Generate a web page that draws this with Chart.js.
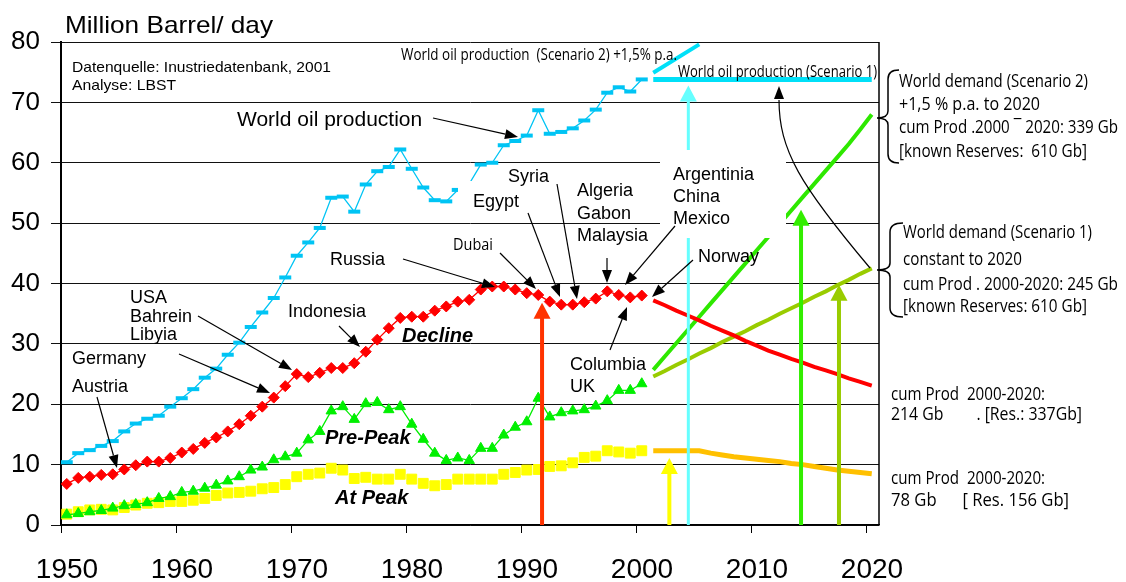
<!DOCTYPE html>
<html>
<head>
<meta charset="utf-8">
<title>World oil production</title>
<script src="https://cdn.jsdelivr.net/npm/chart.js@4.4.1/dist/chart.umd.min.js"></script>
<style>
    body { margin: 0; background: #fff; }
    canvas { display: block; }
</style>
</head>
<body>
<canvas id="oil-chart" width="1126" height="582"></canvas>
<script>
// -- data --
const years = [1950, 1951, 1952, 1953, 1954, 1955, 1956, 1957, 1958, 1959,
    1960, 1961, 1962, 1963, 1964, 1965, 1966, 1967, 1968, 1969,
    1970, 1971, 1972, 1973, 1974, 1975, 1976, 1977, 1978, 1979,
    1980, 1981, 1982, 1983, 1984, 1985, 1986, 1987, 1988, 1989,
    1990, 1991, 1992, 1993, 1994, 1995, 1996, 1997, 1998, 1999, 2000];

//World oil production
const worldProduction = [10.4, 11.9, 12.4, 13.1, 13.9, 15.5, 16.8, 17.6, 18.1, 19.6,
    21.0, 22.5, 24.4, 25.9, 28.2, 30.2, 32.8, 35.2, 37.6, 41.0,
    44.6, 46.8, 49.2, 54.2, 54.4, 51.9, 56.4, 58.6, 59.3, 62.2,
    59.0, 55.9, 53.8, 53.6, 55.5, 56.5, 59.7, 60.0, 62.9, 63.6,
    64.5, 68.7, 64.8, 65.1, 65.7, 67.0, 68.8, 71.6, 72.5, 71.8, 73.8];

//Decline countries
const declineProduction = [6.8, 7.8, 8.0, 8.3, 8.4, 9.2, 9.9, 10.5, 10.5, 11.1,
    12.0, 12.6, 13.6, 14.5, 15.5, 16.7, 18.1, 19.6, 21.1, 23.0,
    25.0, 24.5, 25.2, 26.0, 26.0, 26.8, 28.7, 30.7, 32.6, 34.3,
    34.5, 34.5, 35.5, 36.2, 37.0, 37.3, 39.0, 39.5, 39.5, 39.0,
    38.4, 38.1, 37.0, 36.5, 36.5, 36.9, 37.5, 38.7, 38.1, 37.7, 38.0];

//Pre-Peak countries
const prePeakProduction = [1.7, 1.9, 2.2, 2.4, 2.8, 3.2, 3.4, 3.7, 4.4, 4.7,
    5.4, 5.6, 6.1, 6.6, 7.3, 8.0, 9.1, 9.6, 10.8, 11.3,
    11.9, 14.1, 15.5, 18.9, 19.6, 17.5, 20.1, 20.3, 19.1, 19.6,
    16.7, 14.2, 11.9, 10.7, 11.1, 10.7, 12.7, 12.7, 14.9, 16.2,
    17.1, 21.0, 17.9, 18.6, 18.9, 19.1, 19.7, 20.6, 22.3, 22.3, 23.4];

//At Peak countries
const atPeakProduction = [1.8, 2.2, 2.5, 2.6, 2.5, 2.9, 3.3, 3.6, 3.7, 3.9,
    3.9, 4.1, 4.4, 4.9, 5.3, 5.4, 5.6, 6.0, 6.2, 6.7,
    8.0, 8.4, 8.6, 9.4, 9.1, 7.7, 7.9, 7.6, 7.6, 8.4,
    7.6, 6.9, 6.5, 6.7, 7.6, 7.6, 7.6, 7.6, 8.4, 8.7,
    9.1, 9.2, 9.7, 9.8, 10.3, 11.2, 11.4, 12.3, 12.1, 11.9, 12.3];

//Forecast 2001 - 2020
const forecastYears = [2001, 2002, 2003, 2004, 2005, 2006, 2007, 2008, 2009, 2010,
    2011, 2012, 2013, 2014, 2015, 2016, 2017, 2018, 2019, 2020];
const declineForecast = [37.2, 36.4, 35.5, 34.7, 33.9, 33.0, 32.2, 31.4, 30.5, 29.7,
    28.9, 28.2, 27.5, 26.9, 26.2, 25.6, 25.0, 24.3, 23.7, 23.1];
const atPeakForecast = [12.3, 12.3, 12.3, 12.3, 12.3, 11.9, 11.6, 11.3, 11.1, 10.9,
    10.7, 10.5, 10.2, 10.0, 9.7, 9.4, 9.1, 8.9, 8.7, 8.5];
const demandScenario2 = [25.7, 27.9, 30.1, 32.3, 34.5, 36.7, 38.9, 41.1, 43.3, 45.5,
    47.7, 49.9, 52.1, 54.3, 56.5, 58.7, 60.9, 63.1, 65.5, 68.0];
const demandScenario1 = [24.6, 25.5, 26.5, 27.4, 28.4, 29.3, 30.3, 31.2, 32.1, 33.1,
    34.0, 35.0, 35.9, 36.8, 37.8, 38.7, 39.7, 40.6, 41.6, 42.5];

//World oil production scenarios
const scenario1Years = [2001, 2020];
const scenario1Production = [73.8, 73.8];
const scenario2Years = [2001, 2005];
const scenario2Production = [74.9, 79.6];

//Coloured marker arrows (axis position, level of the tip)
const markYears = [1991.83, 2002.9, 2004.55, 2014.35, 2017.65];
const markLevels = [36.8, 11.1, 72.8, 52.2, 39.8];
const markColors = ['#FF3300', '#FFFF00', '#66FFFF', '#33EE00', '#99CC00'];

//Axis ticks
const xTickYears = [1950, 1960, 1970, 1980, 1990, 2000, 2010, 2020];

// -- helpers --
const SANS = '"Liberation Sans", Arial, sans-serif';
const NARROW = '"Open Sans", "Noto Sans", sans-serif';
const half = 0.5; //values sit in the middle of their year

function points(xs, ys) {
    return xs.map((x, i) => ({ x: x + half, y: ys[i] }));
}

//labels: text, x, y (baseline), size, style, family, width (reference pixels)
const labels = [
    ['Million Barrel/ day', 65, 33, 24, '', SANS, 208],
    ['Datenquelle: Inustriedatenbank, 2001', 72, 72, 15, '', SANS, 259],
    ['Analyse: LBST', 72, 90, 15, '', SANS, 104],
    ['World oil production', 237, 126, 21, '', SANS],
    ['World oil production  (Scenario 2) +1,5% p.a.', 401, 60, 16, '', NARROW, 276],
    ['World oil production (Scenario 1)', 678, 76.5, 16, '', NARROW, 199],
    ['Russia', 330, 265, 18, '', SANS],
    ['USA', 130, 303, 18, '', SANS],
    ['Bahrein', 130, 321.5, 18, '', SANS],
    ['Libyia', 130, 339.5, 18, '', SANS],
    ['Germany', 72, 363.5, 18, '', SANS],
    ['Austria', 72, 391.5, 18, '', SANS],
    ['Indonesia', 288, 316.5, 18, '', SANS],
    ['Dubai', 453, 250, 17, '', NARROW, 40],
    ['Syria', 508, 182, 18, '', SANS],
    ['Egypt', 473, 207, 18, '', SANS],
    ['Algeria', 577, 196, 18, '', SANS],
    ['Gabon', 577, 218.5, 18, '', SANS],
    ['Malaysia', 577, 240.5, 18, '', SANS],
    ['Argentinia', 673, 179.5, 18, '', SANS],
    ['China', 673, 201.5, 18, '', SANS],
    ['Mexico', 673, 223.5, 18, '', SANS],
    ['Norway', 698, 261.5, 18, '', SANS],
    ['Columbia', 570, 369.5, 18, '', SANS],
    ['UK', 570, 391.5, 18, '', SANS],
    ['Decline', 402, 342, 20, 'italic bold', SANS],
    ['Pre-Peak', 325, 443.5, 20, 'italic bold', SANS],
    ['At Peak', 335, 503.5, 20, 'italic bold', SANS],
    ['World demand (Scenario 2)', 899, 86.5, 18, '', NARROW, 189],
    ['+1,5 % p.a. to 2020', 899, 110, 18, '', NARROW, 141],
    ['cum Prod .2000 \u00AF 2020: 339 Gb', 899, 133, 18, '', NARROW, 219],
    ['[known Reserves:  610 Gb]', 899, 156.5, 18, '', NARROW, 188],
    ['World demand (Scenario 1)', 903, 238, 18, '', NARROW, 189],
    ['constant to 2020', 903, 265, 18, '', NARROW, 119],
    ['cum Prod . 2000-2020: 245 Gb', 903, 290, 18, '', NARROW, 215],
    ['[known Reserves: 610 Gb]', 903, 311.5, 18, '', NARROW, 184],
    ['cum Prod  2000-2020:', 891, 399.5, 18, '', NARROW, 154],
    ['214 Gb        . [Res.: 337Gb]', 891, 420, 18, '', NARROW, 191],
    ['cum Prod  2000-2020:', 891, 483.5, 18, '', NARROW, 154],
    ['78 Gb      [ Res. 156 Gb]', 891, 505.5, 18, '', NARROW, 178]
];

//black pointer arrows: from x,y to tip x,y (reference pixels)
const pointers = [
    [97, 397, 117, 468],
    [179, 354, 270, 393],
    [198, 316, 292, 370],
    [339, 326, 360, 347],
    [403, 259, 495, 287],
    [500, 253, 536, 289],
    [528, 213, 560, 297],
    [557, 184, 577, 299],
    [607, 258, 607, 283],
    [675, 226, 625, 285],
    [693, 260, 652, 297],
    [610, 350, 627, 307],
    [433, 118, 518, 137]
];

//white text boxes that hide the lines behind them
const boxes = [
    [660, 150, 786, 238],
    [458, 181, 532, 214]
];

function pointer(ctx, x1, y1, x2, y2) {
    const a = Math.atan2(y2 - y1, x2 - x1), L = 13, W = 5;
    const bx = x2 - L * Math.cos(a), by = y2 - L * Math.sin(a);
    ctx.beginPath();
    ctx.moveTo(x1, y1);
    ctx.lineTo(bx, by);
    ctx.stroke();
    ctx.beginPath();
    ctx.moveTo(x2, y2);
    ctx.lineTo(bx + W * Math.sin(a), by - W * Math.cos(a));
    ctx.lineTo(bx - W * Math.sin(a), by + W * Math.cos(a));
    ctx.closePath();
    ctx.fill();
}

function brace(ctx, xTip, xEnd, yTop, yMid, yBot) {
    const xm = (xTip + xEnd) / 2;
    ctx.beginPath();
    ctx.moveTo(xEnd, yTop);
    ctx.quadraticCurveTo(xm, yTop, xm, yTop + 9);
    ctx.lineTo(xm, yMid - 7);
    ctx.quadraticCurveTo(xm, yMid, xTip, yMid);
    ctx.quadraticCurveTo(xm, yMid, xm, yMid + 7);
    ctx.lineTo(xm, yBot - 9);
    ctx.quadraticCurveTo(xm, yBot, xEnd, yBot);
    ctx.stroke();
}

const annotations = {
    id: 'annotations',
    afterDatasetsDraw(chart) {
        const ctx = chart.ctx;
        const xs = chart.scales.x, ys = chart.scales.y;
        const area = chart.chartArea;
        //reference pixel -> canvas pixel, through the scales
        const P = (x, y) => [xs.getPixelForValue(1950 + (x - 61) / 11.5), ys.getPixelForValue((525 - y) / 6.0375)];

        ctx.save();

        //right frame
        ctx.strokeStyle = '#000';
        ctx.lineWidth = 1.5;
        ctx.beginPath();
        ctx.moveTo(area.right, area.top);
        ctx.lineTo(area.right, area.bottom);
        ctx.stroke();

        //coloured marker arrows
        const yBase = ys.getPixelForValue(0);
        for (let i = 0; i < markYears.length; i++) {
            const x = xs.getPixelForValue(markYears[i]);
            const yTip = ys.getPixelForValue(markLevels[i]);
            const shaft = i == 2 ? 3 : 4;
            ctx.fillStyle = markColors[i];
            ctx.fillRect(x - shaft / 2, yTip + 15, shaft, yBase - yTip - 15);
            ctx.beginPath();
            ctx.moveTo(x, yTip);
            ctx.lineTo(x - 8.5, yTip + 16);
            ctx.lineTo(x + 8.5, yTip + 16);
            ctx.closePath();
            ctx.fill();
        }

        //white boxes
        ctx.fillStyle = '#fff';
        boxes.forEach(b => {
            const p1 = P(b[0], b[1]), p2 = P(b[2], b[3]);
            ctx.fillRect(p1[0], p1[1], p2[0] - p1[0], p2[1] - p1[1]);
        });

        //black pointers
        ctx.strokeStyle = '#000';
        ctx.fillStyle = '#000';
        ctx.lineWidth = 1.2;
        pointers.forEach(p => {
            const a = P(p[0], p[1]), b = P(p[2], p[3]);
            pointer(ctx, a[0], a[1], b[0], b[1]);
        });

        //curved pointer to scenario 1
        const c0 = P(870, 268), c1 = P(800, 185), c2 = P(779, 150), c3 = P(779, 100), tip = P(779, 86);
        ctx.beginPath();
        ctx.moveTo(c0[0], c0[1]);
        ctx.bezierCurveTo(c1[0], c1[1], c2[0], c2[1], c3[0], c3[1]);
        ctx.stroke();
        ctx.beginPath();
        ctx.moveTo(tip[0], tip[1]);
        ctx.lineTo(tip[0] - 5, tip[1] + 13);
        ctx.lineTo(tip[0] + 5, tip[1] + 13);
        ctx.closePath();
        ctx.fill();

        //braces
        ctx.lineWidth = 1.5;
        let t = P(877, 70), b = P(899, 163);
        brace(ctx, t[0], b[0], t[1], P(0, 118)[1], b[1]);
        t = P(877, 223); b = P(903, 317);
        brace(ctx, t[0], b[0], t[1], P(0, 270)[1], b[1]);

        //texts
        ctx.fillStyle = '#000';
        ctx.textAlign = 'left';
        ctx.textBaseline = 'alphabetic';
        labels.forEach(l => {
            const p = P(l[1], l[2]);
            ctx.save();
            ctx.font = (l[4] ? l[4] + ' ' : '') + l[3] + 'px ' + l[5];
            ctx.translate(p[0], p[1]);
            if (l[6]) {
                ctx.scale(l[6] / ctx.measureText(l[0]).width, 1);
            }
            ctx.fillText(l[0], 0, 0);
            ctx.restore();
        });

        ctx.restore();
    }
};

// -- chart --
const OilChart = document.getElementById('oil-chart');

new Chart(OilChart, {
    type: 'line',
    data: {
        datasets: [{
            label: 'World oil production',
            data: points(years, worldProduction),
            borderColor: '#00C4F4',
            borderWidth: 1.3,
            pointStyle: 'line',
            pointRadius: 6,
            pointBorderWidth: 4,
            pointBorderColor: '#00C4F4',
            spanGaps: false
        }, {
            label: 'Decline',
            data: points(years, declineProduction),
            borderColor: '#FF0000',
            backgroundColor: '#FF0000',
            borderWidth: 1.3,
            pointStyle: 'rectRot',
            pointRadius: 5.5,
            pointBorderWidth: 1
        }, {
            label: 'Pre-Peak',
            data: points(years, prePeakProduction),
            borderColor: '#00EE00',
            backgroundColor: '#00F000',
            borderWidth: 1.3,
            pointStyle: 'triangle',
            pointRadius: 6,
            pointBorderWidth: 1
        }, {
            label: 'At Peak',
            data: points(years, atPeakProduction),
            borderColor: '#FFFF00',
            backgroundColor: '#FFFF00',
            showLine: false,
            pointStyle: 'rect',
            pointRadius: 7,
            pointBorderWidth: 1
        }, {
            label: 'Decline forecast',
            data: points(forecastYears, declineForecast),
            borderColor: '#FF0000',
            borderWidth: 4,
            pointRadius: 0
        }, {
            label: 'At Peak forecast',
            data: points(forecastYears, atPeakForecast),
            borderColor: '#FFC000',
            borderWidth: 5,
            pointRadius: 0
        }, {
            label: 'World demand (Scenario 2)',
            data: points(forecastYears, demandScenario2),
            borderColor: '#2EE800',
            borderWidth: 4,
            pointRadius: 0
        }, {
            label: 'World demand (Scenario 1)',
            data: points(forecastYears, demandScenario1),
            borderColor: '#99CC00',
            borderWidth: 4,
            pointRadius: 0
        }, {
            label: 'World oil production (Scenario 1)',
            data: points(scenario1Years, scenario1Production),
            borderColor: '#00E0F8',
            borderWidth: 5,
            pointRadius: 0
        }, {
            label: 'World oil production (Scenario 2)',
            data: points(scenario2Years, scenario2Production),
            borderColor: '#00E0F8',
            borderWidth: 4,
            pointRadius: 0
        }]
    },
    options: {
        responsive: false,
        animation: false,
        layout: {
            padding: { left: 0, top: 42, right: 247, bottom: 0 }
        },
        plugins: {
            legend: { display: false },
            tooltip: { enabled: false }
        },
        scales: {
            x: {
                type: 'linear',
                min: 1950,
                max: 2021.13,
                afterBuildTicks: function (scale) {
                    scale.ticks = xTickYears.map(v => ({ value: v }));
                },
                afterFit: function (scale) {
                    scale.height = 57;
                },
                grid: {
                    drawOnChartArea: false,
                    tickLength: 8,
                    color: '#000'
                },
                border: { color: '#000', width: 1.5 },
                ticks: {
                    autoSkip: false,
                    maxRotation: 0,
                    padding: 20,
                    labelOffset: 6,
                    color: '#000',
                    font: { family: SANS, size: 28 },
                    callback: v => '' + v
                }
            },
            y: {
                min: 0,
                max: 80,
                afterFit: function (scale) {
                    scale.width = 61;
                },
                grid: {
                    color: '#111',
                    lineWidth: 1,
                    tickLength: 10
                },
                border: { color: '#000', width: 2 },
                ticks: {
                    stepSize: 10,
                    padding: 11,
                    color: '#000',
                    font: { family: SANS, size: 26 }
                }
            }
        }
    },
    plugins: [annotations]
});
</script>
</body>
</html>
